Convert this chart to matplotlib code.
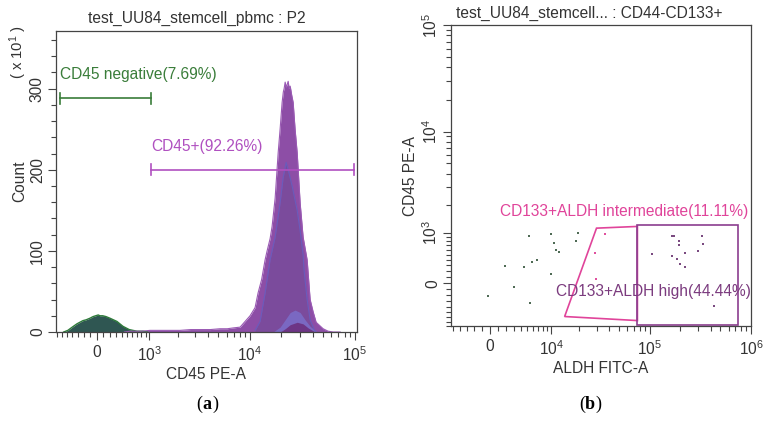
import matplotlib.pyplot as plt
import numpy as np

plt.rcParams['font.family'] = ['Liberation Sans', 'DejaVu Sans']
plt.rcParams['mathtext.fontset'] = 'custom'
plt.rcParams['mathtext.rm'] = 'Liberation Sans'
plt.rcParams['mathtext.it'] = 'Liberation Sans:italic'
plt.rcParams['mathtext.bf'] = 'Liberation Sans:bold'

# ---- panel (a): CD45 PE-A histogram (counts in units of 10^1) ----
green_x = [-560, -480, -420, -360, -320, -270, -220, -170, -108, -60, -20, 20, 46,
           90, 140, 203, 260, 319, 370, 423, 480, 540, 615, 700, 836, 950]
green_n = [0, 2, 5, 8, 10, 12, 14, 15, 17, 19, 20, 21, 20,
           20, 19, 17, 15, 13, 10, 7, 5, 3, 2, 1, 1, 0]

outer_x = [450, 556, 800, 1014, 1500, 2117, 2700, 3330, 4200, 5195, 6100, 6930, 8090,
           9025, 10070, 11240, 12000, 13000, 14010, 14640, 15630, 16330, 17460, 18660,
           19470, 20350, 20900, 21260, 21750, 22240, 22740, 23230, 23750, 24290, 25100,
           25910, 27030, 28300, 30200, 32240, 35200, 37600, 40130, 42870, 49990, 55760,
           62230, 72580]
outer_n = [0, 1, 1, 2, 2, 2, 3, 3, 3, 4, 4, 5, 6,
           13, 20, 30, 48, 65, 89, 100, 115, 130, 165, 221,
           250, 283, 296, 300, 308, 302, 305, 309, 300, 303, 292,
           283, 250, 221, 159, 117, 89, 40, 25, 12, 4, 1,
           0, 0]

inner_x = [11240, 12550, 14010, 15630, 17460, 19470, 20800, 22240, 23750, 25340,
           28300, 30200, 32240, 32930, 35200, 37600, 41050, 42870]
inner_n = [2, 13, 48, 89, 117, 159, 190, 209, 195, 180,
           150, 125, 95, 76, 40, 15, 3, 0]

blue_x = [16700, 19470, 21750, 24290, 27030, 30200, 33660, 37600, 43860]
blue_n = [0, 6, 15, 24, 27, 24, 15, 7, 0]

dark_x = [19470, 21750, 24290, 28300, 32240, 36040, 41950]
dark_n = [0, 4, 9, 12, 10, 5, 0]

neg_gate = [-635, 1040, 288]      # x0, x1, level
pos_gate = [1050, 98600, 200]

# ---- panel (b): ALDH FITC-A vs CD45 PE-A ----
dots_x = [-208, 1801, 3004, 4571, 5580, 5400, 5850, 6866, 9995, 9995, 10680, 11450,
          12280, 18500, 19520]
dots_y = [-211, 291, -57, 273, -326, 920, 361, 388, 953, 160, 750, 590,
          555, 798, 988]
mid_x = [28380, 29380, 35830]
mid_y = [534, 74, 953]
high_x = [104900, 165600, 173400, 194300, 194300, 164600, 184400, 199500, 222800,
          222800, 297600, 328200, 335900, 428400]
high_y = [508, 920, 920, 798, 706, 469, 412, 317, 273,
          534, 565, 912, 721, -394]

mid_gate_x = [29720, 75730, 75730, 14030]
mid_gate_y = [1129, 1180, -676, -590]
high_gate_x = [75730, 741000]
high_gate_y = [-766, 1209]

FS = 11.2


def biex(c):
    k = np.log(10)
    def fwd(v):
        return np.arcsinh(np.asarray(v, float) / (2 * c)) / k
    def inv(v):
        return 2 * c * np.sinh(np.asarray(v, float) * k)
    return fwd, inv


def style_axes(ax):
    for s in ax.spines.values():
        s.set_color('#444444')
        s.set_linewidth(0.9)
    ax.tick_params(which='both', direction='out', color='#444444', width=0.8,
                   labelsize=FS, labelcolor='#333333')
    ax.tick_params(which='major', length=6)
    ax.tick_params(which='minor', length=3.5)


def log_minor(lo_lin, hi_lin, step, decades):
    ticks = [v for v in range(lo_lin, hi_lin + 1, step) if v != 0]
    for d in decades:
        ticks += [m * 10 ** d for m in range(2, 10)]
    return ticks


fig = plt.figure(figsize=(7.7, 4.23), dpi=100)

# ---------------- (a) ----------------
ax1 = fig.add_axes([56 / 770, 1 - 332 / 423, 301 / 770, 301 / 423])
ax1.set_xscale('function', functions=biex(352))
ax1.set_xlim(-720, 105000)
ax1.set_ylim(0, 371)

ax1.fill_between(green_x, green_n, color='#2f5652', lw=0)
ax1.plot(green_x, green_n, color='#2e7a3a', lw=1)
ax1.fill_between(outer_x, outer_n, color='#8d4ea6', lw=0)
ax1.plot(outer_x, outer_n, color='#9a5ab4', lw=0.8)
ax1.fill_between(inner_x, inner_n, color='#7b4b9c', lw=0)
ax1.plot(inner_x, inner_n, color='#6a5cbc', lw=0.8)
ax1.fill_between(blue_x, blue_n, color='#7a70cc', alpha=0.8, lw=0)
ax1.fill_between(dark_x, dark_n, color='#6d3585', lw=0)

g = '#3a7d3a'
ax1.plot(neg_gate[:2], [neg_gate[2]] * 2, color=g, lw=1.2)
for xv in neg_gate[:2]:
    ax1.plot([xv, xv], [neg_gate[2] - 7, neg_gate[2] + 7], color=g, lw=1.2)
ax1.text(neg_gate[0], neg_gate[2] + 20, 'CD45 negative(7.69%)', color=g,
         fontsize=FS, ha='left', va='bottom')

p = '#b050c0'
ax1.plot(pos_gate[:2], [pos_gate[2]] * 2, color=p, lw=1.2)
for xv in pos_gate[:2]:
    ax1.plot([xv, xv], [pos_gate[2] - 7, pos_gate[2] + 7], color=p, lw=1.2)
ax1.text(pos_gate[0], pos_gate[2] + 20, 'CD45+(92.26%)', color=p,
         fontsize=FS, ha='left', va='bottom')

ax1.set_xticks([0, 1e3, 1e4, 1e5])
ax1.set_xticklabels(['0', '$10^{3}$', '$10^{4}$', '$10^{5}$'])
ax1.set_xticks(log_minor(-700, 900, 100, [3, 4]), minor=True)
ax1.set_yticks([0, 100, 200, 300])
ax1.set_yticks(list(range(20, 371, 20)), minor=True)
style_axes(ax1)
ax1.tick_params(axis='y', labelrotation=90, pad=2)
for lab in ax1.get_yticklabels():
    lab.set_va('center')
ax1.set_xlabel('CD45 PE-A', fontsize=FS, color='#333333', labelpad=2)
ax1.set_ylabel('Count', fontsize=FS, color='#333333', labelpad=2)
fig.text(197 / 770, 1 - 18 / 423, 'test_UU84_stemcell_pbmc : P2', fontsize=FS,
         color='#333333', ha='center', va='center')
fig.text(18 / 770, 1 - 52 / 423, '( x 10$^{1}$ )', fontsize=FS - 0.5, rotation=90,
         color='#333333', ha='center', va='center')

# ---------------- (b) ----------------
ax2 = fig.add_axes([451 / 770, 1 - 326 / 423, 300 / 770, 301 / 423])
ax2.set_xscale('function', functions=biex(2674))
ax2.set_yscale('function', functions=biex(378))
ax2.set_xlim(-5400, 1.0e6)
ax2.set_ylim(-800, 1.0e5)

ax2.scatter(dots_x, dots_y, s=3, marker='s', color='#4f6b55', lw=0)
ax2.scatter(mid_x, mid_y, s=3, marker='s', color='#e0509e', lw=0)
ax2.scatter(high_x, high_y, s=3, marker='s', color='#7a4a80', lw=0)

m = '#e0449a'
ax2.fill(mid_gate_x, mid_gate_y, fill=False, edgecolor=m, lw=1.2)
h = '#8b3d8f'
ax2.fill([high_gate_x[0], high_gate_x[1], high_gate_x[1], high_gate_x[0]],
         [high_gate_y[0], high_gate_y[0], high_gate_y[1], high_gate_y[1]],
         fill=False, edgecolor=h, lw=1.2)
ax2.text(1230, 1690, 'CD133+ALDH intermediate(11.11%)', color=m,
         fontsize=FS, ha='left', va='center')
ax2.text(11450, -127, 'CD133+ALDH high(44.44%)', color='#7b3b7e',
         fontsize=FS, ha='left', va='center')

ax2.set_xticks([0, 1e4, 1e5, 1e6])
ax2.set_xticklabels(['0', '$10^{4}$', '$10^{5}$', '$10^{6}$'])
ax2.set_xticks(log_minor(-5000, 9000, 1000, [4, 5]), minor=True)
ax2.set_yticks([0, 1e3, 1e4, 1e5])
ax2.set_yticklabels(['0', '$10^{3}$', '$10^{4}$', '$10^{5}$'])
ax2.set_yticks(log_minor(-800, 900, 100, [3, 4]), minor=True)
style_axes(ax2)
ax2.tick_params(axis='y', labelrotation=90, pad=2)
for lab in ax2.get_yticklabels():
    lab.set_va('center')
ax2.set_xlabel('ALDH FITC-A', fontsize=FS, color='#333333', labelpad=2)
ax2.set_ylabel('CD45 PE-A', fontsize=FS, color='#333333', labelpad=2)
fig.text(589 / 770, 1 - 13 / 423, 'test_UU84_stemcell... : CD44-CD133+', fontsize=FS,
         color='#333333', ha='center', va='center')

# panel letters
for cx, letter in [(207, 'a'), (590, 'b')]:
    y = 1 - 404 / 423
    fig.text(cx / 770, y, letter, fontsize=13, fontweight='bold',
             family='Liberation Serif', ha='center', va='center')
    fig.text((cx - 5) / 770, y, '(', fontsize=13, family='Liberation Serif',
             ha='right', va='center')
    fig.text((cx + 5) / 770, y, ')', fontsize=13, family='Liberation Serif',
             ha='left', va='center')

fig.savefig('out.png', dpi=100)
